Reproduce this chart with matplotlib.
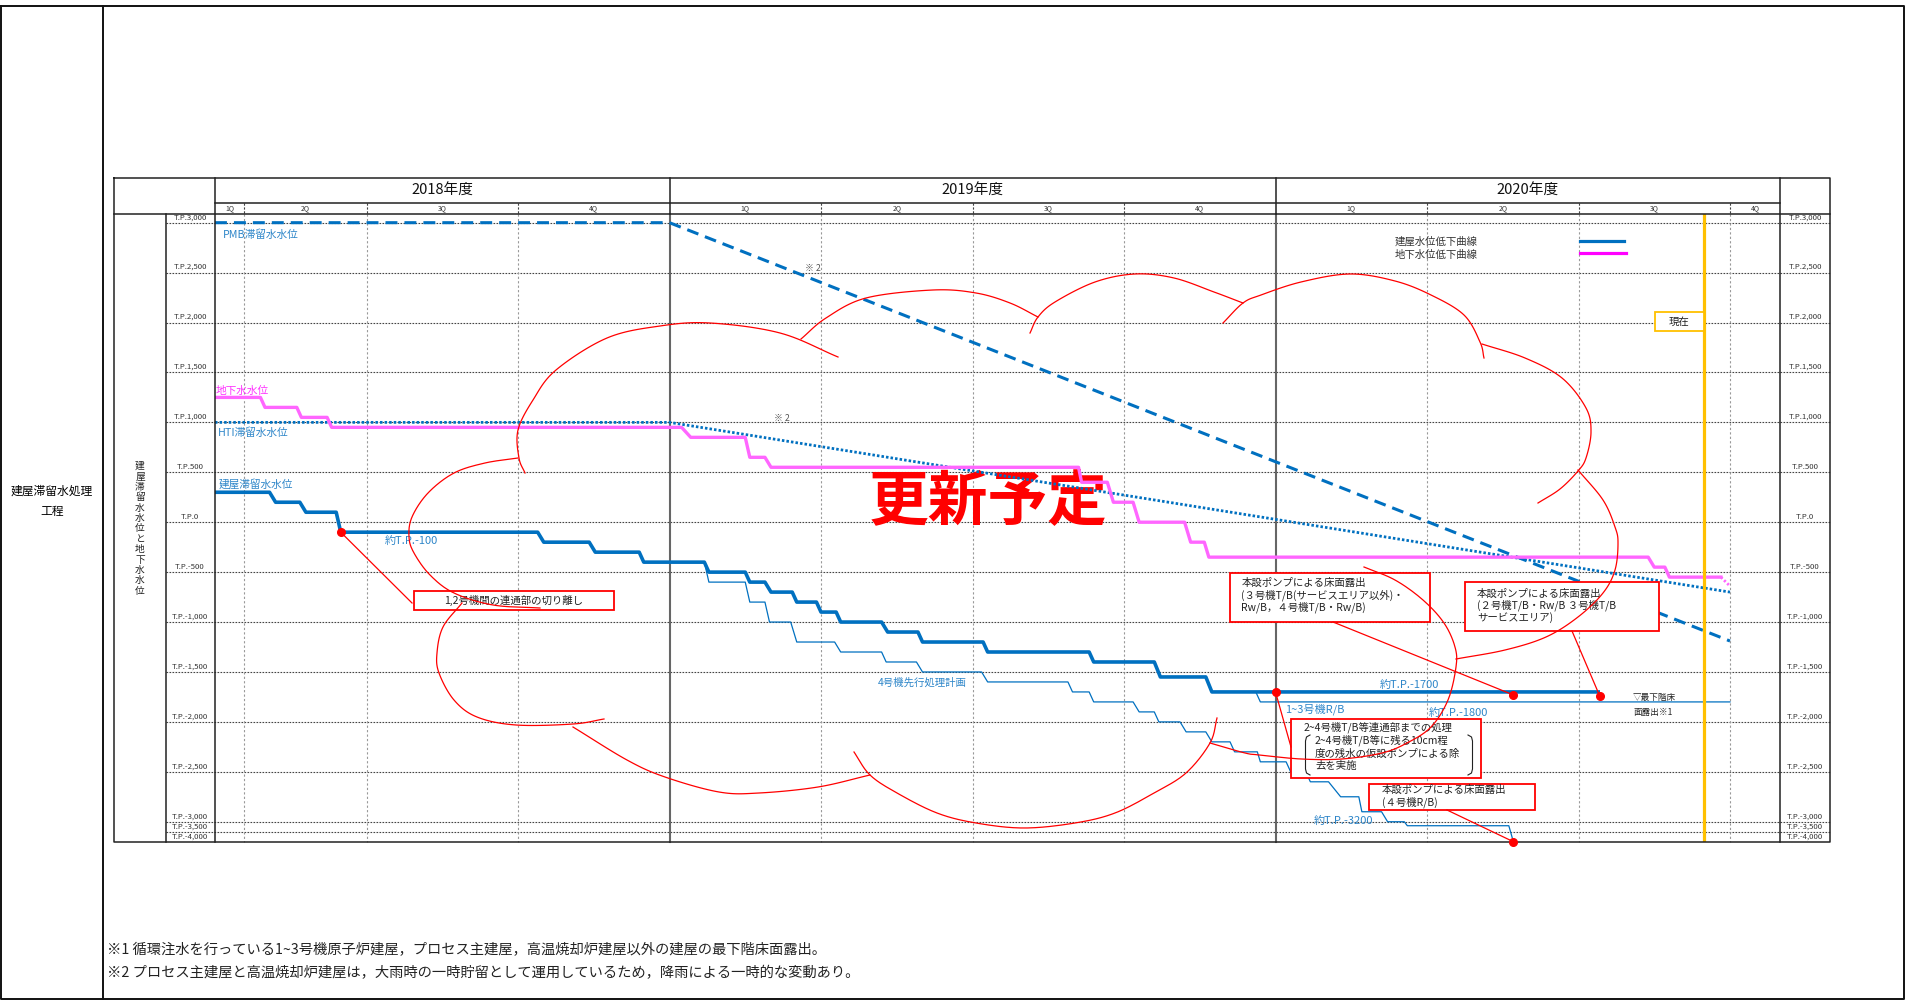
"""
Building stagnant water / groundwater level schedule chart (FY2018-FY2020).
"""

import numpy as np
import matplotlib
matplotlib.use('Agg')
import matplotlib.pyplot as plt
from matplotlib.lines import Line2D
from matplotlib.patches import Rectangle
from matplotlib.transforms import Affine2D

# ---- time axis (x = quarter index, FY2019 1Q starts at 4) ----
years = ['2018年度', '2019年度', '2020年度']
year_edges = [1.0, 4.0, 8.0, 11.33]
q_edges = [1.0, 1.19, 2.0, 3.0, 4.0, 5.0, 6.0, 7.0, 8.0, 9.0, 10.0, 11.0, 11.33]
q_labels = ['1Q', '2Q', '3Q', '4Q'] * 3
now_q = 10.83

# ---- water level axis (T.P. mm) ----
y_ticks = [3000, 2500, 2000, 1500, 1000, 500, 0, -500, -1000, -1500,
           -2000, -2500, -3000, -3500, -4000]

# ---- series ----
# building stagnant water level (thick)
bldg_x = [1.0, 1.36, 1.40, 1.56, 1.60, 1.80, 1.83, 3.13, 3.17, 3.47, 3.51, 3.80, 3.83,
          4.23, 4.26, 4.50, 4.53, 4.63, 4.67, 4.81, 4.84, 4.97, 5.00, 5.10, 5.13,
          5.40, 5.44, 5.64, 5.67, 6.07, 6.10, 6.77, 6.80, 7.20, 7.24, 7.54, 7.58, 10.13]
bldg_y = [300, 300, 200, 200, 100, 100, -100, -100, -200, -200, -300, -300, -400,
          -400, -500, -500, -600, -600, -700, -700, -800, -800, -900, -900, -1000,
          -1000, -1100, -1100, -1200, -1200, -1300, -1300, -1400, -1400, -1550, -1550, -1700, -1700]

# unit 4 advance treatment plan (thin)
plan4_x = [4.23, 4.26, 4.50, 4.53, 4.63, 4.66, 4.80, 4.84, 5.09, 5.13, 5.40, 5.43, 5.63, 5.67,
           6.06, 6.10, 6.63, 6.66, 6.77, 6.80, 7.06, 7.10, 7.20, 7.23, 7.37, 7.41, 7.54, 7.58,
           7.70, 7.73, 7.88, 7.90, 8.07, 8.10, 8.20, 8.23, 8.35, 8.43, 8.55, 8.57, 8.70, 8.74,
           8.85, 8.87, 9.54, 9.57]
plan4_y = [-400, -600, -600, -800, -800, -1000, -1000, -1200, -1200, -1300, -1300, -1400,
           -1400, -1500, -1500, -1600, -1600, -1700, -1700, -1800, -1800, -1900, -1900, -2000,
           -2000, -2100, -2100, -2200, -2200, -2300, -2300, -2400, -2400, -2500, -2500, -2600,
           -2600, -2750, -2750, -2900, -2900, -3000, -3000, -3200, -3200, -4000]

# units 1-3 R/B (thin)
rb_x = [7.87, 7.90, 11.0]
rb_y = [-1700, -1800, -1800]

# groundwater level (magenta)
gw_x = [1.0, 1.30, 1.33, 1.54, 1.57, 1.74, 1.77, 4.08, 4.14, 4.50, 4.53, 4.63, 4.67,
        6.70, 6.72, 6.89, 6.93, 7.06, 7.10, 7.40, 7.44, 7.53, 7.56, 10.46, 10.50,
        10.57, 10.60, 10.94]
gw_y = [1250, 1250, 1150, 1150, 1050, 1050, 950, 950, 850, 850, 650, 650, 550,
        550, 400, 400, 200, 200, 0, 0, -200, -200, -350, -350, -450,
        -450, -550, -550]
gw_tail_x = [10.94, 11.0]
gw_tail_y = [-550, -640]

# PMB / HTI stagnant water levels
pmb_x = [1.0, 4.0, 11.0]
pmb_y = [3000, 3000, -1190]
hti_x = [1.0, 4.0, 11.0]
hti_y = [1000, 1000, -700]

# milestone points
ms_x = [1.83, 8.0, 9.57, 10.14, 9.57]
ms_y = [-100, -1700, -1730, -1740, -4000]

# revision cloud (decoration, pixel coords)
CLOUD = [
    [(525, 473), (519, 458), (518, 430), (533, 400), (556, 370), (607, 338), (660, 326),
     (710, 323), (780, 333), (838, 357)],
    [(801, 339), (826, 318), (866, 298), (933, 290), (976, 293), (1010, 303), (1038, 317)],
    [(1030, 333), (1038, 317), (1055, 302), (1095, 282), (1135, 274), (1174, 278),
     (1214, 292), (1243, 303)],
    [(1223, 323), (1243, 303), (1261, 295), (1301, 282), (1350, 274), (1395, 281),
     (1431, 295), (1464, 315), (1480, 342), (1484, 358)],
    [(1482, 344), (1525, 358), (1562, 378), (1586, 408), (1591, 432), (1586, 458),
     (1578, 471), (1560, 489), (1538, 503)],
    [(1578, 470), (1603, 500), (1615, 527), (1618, 543), (1615, 570), (1603, 593),
     (1578, 617), (1546, 637), (1505, 650), (1456, 659)],
    [(1364, 567), (1395, 580), (1423, 600), (1444, 623), (1455, 647), (1456, 667),
     (1448, 700), (1431, 727), (1407, 743), (1382, 753), (1342, 759), (1301, 759),
     (1260, 755), (1245, 753), (1210, 743)],
    [(1217, 718), (1210, 743), (1186, 773), (1154, 793), (1115, 813), (1075, 823),
     (1024, 828), (976, 823), (937, 813), (897, 793), (870, 775), (854, 752)],
    [(870, 775), (818, 787), (759, 793), (719, 792), (665, 777), (627, 760), (573, 727)],
    [(604, 719), (573, 724), (516, 725), (477, 717), (454, 700), (439, 673), (437, 653),
     (443, 627), (462, 603)],
    [(540, 608), (493, 605), (454, 593), (430, 575), (414, 553), (409, 537), (412, 517),
     (428, 493), (454, 473), (485, 463), (518, 458)],
]

W, H = 1907, 1000
BLUE = '#0070C0'
LBLUE = '#2E86C9'
PINK = '#FF66FF'

plt.rcParams['font.family'] = ['Noto Sans CJK JP', 'DejaVu Sans']


def fwd(v):
    v = np.asarray(v, dtype=float)
    return np.where(v >= -3000, v, -3000 + (v + 3000) * 0.2)


def inv(t):
    t = np.asarray(t, dtype=float)
    return np.where(t >= -3000, t, -3000 + (t + 3000) / 0.2)


def smooth(pts, n=14):
    """Catmull-Rom curve through the given points."""
    p = np.asarray(pts, dtype=float)
    p = np.vstack([2 * p[0] - p[1], p, 2 * p[-1] - p[-2]])
    out = []
    t = np.linspace(0, 1, n, endpoint=False)[:, None]
    for i in range(1, len(p) - 2):
        p0, p1, p2, p3 = p[i - 1], p[i], p[i + 1], p[i + 2]
        seg = 0.5 * (2 * p1 + (-p0 + p2) * t + (2 * p0 - 5 * p1 + 4 * p2 - p3) * t ** 2
                     + (-p0 + 3 * p1 - 3 * p2 + p3) * t ** 3)
        out.append(seg)
    out.append(p[-2:-1])
    return np.vstack(out)


def main():
    fig = plt.figure(figsize=(W / 100, H / 100), dpi=100)
    PX = Affine2D().scale(1 / W, -1 / H).translate(0, 1) + fig.transFigure

    def pline(xs, ys, **kw):
        fig.add_artist(Line2D(xs, ys, transform=PX, **kw))

    def ptext(x, y, s, **kw):
        kw.setdefault('va', 'center')
        kw.setdefault('ha', 'left')
        fig.text(x, y, s, transform=PX, **kw)

    # data axes
    ax = fig.add_axes([215 / W, 1 - 841.7 / H, 1565 / W, 628 / H])
    ax.set_xlim(year_edges[0], year_edges[-1])
    ax.set_yscale('function', functions=(fwd, inv))
    ax.set_ylim(-4000, 3090)
    ax.axis('off')

    def to_px(u, v):
        d = ax.transData.transform((u, v))
        return d[0], H - d[1]

    top, bot = 213.7, 841.7
    left_tab, right_tab = 114, 1830
    x_l, x_r = to_px(year_edges[0], 0)[0], to_px(year_edges[-1], 0)[0]

    # horizontal gridlines + T.P. labels
    for v in y_ticks:
        py = to_px(1.0, v)[1]
        if v > -4000:
            pline([165.5, right_tab], [py, py], color='#444', lw=0.8,
                  ls=(0, (1.5, 1.2)), zorder=-1)
        lab = f'T.P.{v:,}'
        ptext(190, py - 1.5, lab, ha='center', va='bottom', fontsize=5.6, color='#333')
        ptext(1805, py - 1.5, lab, ha='center', va='bottom', fontsize=5.6, color='#333')

    # quarter gridlines and header
    for i, q in enumerate(q_edges[1:-1]):
        px = to_px(q, 0)[0]
        if q in year_edges:
            pline([px, px], [top, bot], color='#666', lw=1.5, zorder=-1)
            pline([px, px], [178, top], color='#222', lw=1.1, zorder=5)
        else:
            pline([px, px], [top, bot], color='#999', lw=0.8, ls=(0, (2, 2)), zorder=-1)
            pline([px, px], [203, top], color='#444', lw=0.8, ls=(0, (2, 1.5)), zorder=5)
    for i in range(len(q_edges) - 1):
        cx = (to_px(q_edges[i], 0)[0] + to_px(q_edges[i + 1], 0)[0]) / 2
        ptext(cx, 208.5, q_labels[i], ha='center', fontsize=5, color='#333')
    for i, yr in enumerate(years):
        cx = (to_px(year_edges[i], 0)[0] + to_px(year_edges[i + 1], 0)[0]) / 2
        ptext(cx, 191, yr, ha='center', fontsize=10.6, color='#111')

    # table frame
    k = dict(color='#222', lw=1.1, zorder=5)
    pline([left_tab, right_tab, right_tab, left_tab, left_tab], [178, 178, bot, bot, 178], **k)
    pline([165.5, 165.5], [top, bot], **k)
    pline([x_l, x_l], [178, bot], **k)
    pline([x_r, x_r], [178, bot], **k)
    pline([x_l, x_r], [203, 203], **k)
    pline([left_tab, right_tab], [top, top], **k)

    # outer frame
    pline([1, 1904, 1904, 1, 1], [6, 6, 998.5, 998.5, 6], color='#111', lw=1.4, zorder=5)
    pline([103, 103], [6, 998.5], color='#111', lw=1.4, zorder=5)
    ptext(52, 491, '建屋滞留水処理', ha='center', fontsize=8.5)
    ptext(52, 511, '工程', ha='center', fontsize=8.5)

    # vertical axis title (stacked characters)
    for i, ch in enumerate('建屋滞留水水位と地下水水位'):
        ptext(140, 466 + i * 10.4, ch, ha='center', fontsize=7, color='#222')

    # update stamp
    ax.text(988, 503, '更新予定', transform=PX, fontsize=43, color='#FF0000',
            fontweight='bold', ha='center', va='center', zorder=1.5)

    # series
    ax.plot(pmb_x, pmb_y, color=BLUE, lw=2.2, ls=(0, (3.9, 2.3)), zorder=2)
    ax.plot(hti_x, hti_y, color=BLUE, lw=2.0, ls=(0, (0.9, 0.75)), zorder=2)
    ax.plot(gw_x, gw_y, color=PINK, lw=2.4, zorder=2)
    ax.plot(gw_tail_x, gw_tail_y, color=PINK, lw=2.0, ls=(0, (0.8, 0.8)), zorder=2)
    ax.plot(plan4_x, plan4_y, color=BLUE, lw=0.9, zorder=2.2, clip_on=False)
    ax.plot(rb_x, rb_y, color=BLUE, lw=0.9, zorder=2.2)
    ax.plot(bldg_x, bldg_y, color=BLUE, lw=2.6, zorder=3)
    ax.axvline(now_q, color='#FFC000', lw=2.3, zorder=4)

    # series labels
    ptext(223, 235, 'PMB滞留水水位', fontsize=7.7, color=LBLUE)
    ptext(216, 391, '地下水水位', fontsize=7.7, color='#FF33FF')
    ptext(218, 433, 'HTI滞留水水位', fontsize=7.7, color=LBLUE)
    ptext(219, 484, '建屋滞留水水位', fontsize=7.7, color=LBLUE)
    ptext(385, 541, '約T.P.-100', fontsize=8, color=LBLUE)
    ptext(878, 683, '4号機先行処理計画', fontsize=7.5, color=LBLUE)
    ptext(1380, 685, '約T.P.-1700', fontsize=8, color=LBLUE)
    ptext(1285, 709, '1~3号機R/B', fontsize=8, color=LBLUE)
    ptext(1429, 713, '約T.P.-1800', fontsize=8, color=LBLUE)
    ptext(1314, 821, '約T.P.-3200', fontsize=8, color=LBLUE)
    ptext(805, 268, '※ 2', fontsize=6.3, color='#555')
    ptext(774, 418, '※ 2', fontsize=6.3, color='#555')
    ptext(1633, 697, '▽最下階床', fontsize=6.2, color='#222')
    ptext(1633, 712, '面露出※1', fontsize=6.2, color='#222')

    # legend
    ptext(1395, 241.5, '建屋水位低下曲線', fontsize=7.5, color='#333')
    ptext(1395, 254.5, '地下水位低下曲線', fontsize=7.5, color='#333')
    pline([1580, 1624], [241, 241], color=BLUE, lw=2.3, zorder=6)
    pline([1580, 1626], [253, 253], color='#FF00FF', lw=2.3, zorder=6)

    # "now" tag
    fig.add_artist(Rectangle((1655, 312), 49, 19, transform=PX, facecolor='white',
                             edgecolor='#FFC000', lw=1.3, zorder=6))
    ptext(1679.5, 321.5, '現在', ha='center', fontsize=7.5, color='#222', zorder=7)

    # annotation boxes
    boxes = [
        (414, 591, 200, 19), (1229.5, 572.7, 200, 49), (1465, 582, 193.5, 49),
        (1290.6, 719.3, 190, 59), (1369.3, 784, 166, 26),
    ]
    for (bx, by, bw, bh) in boxes:
        fig.add_artist(Rectangle((bx, by), bw, bh, transform=PX, facecolor='white',
                                 edgecolor='#FF0000', lw=1.3, zorder=6))
    tk = dict(fontsize=7.5, color='#222', zorder=7)
    ptext(514, 600.5, '1,2号機間の連通部の切り離し', ha='center', **tk)
    for y, s in zip([583.3, 595.5, 607.5],
                    ['本設ポンプによる床面露出', '(３号機T/B(サービスエリア以外)・',
                     'Rw/B，４号機T/B・Rw/B)']):
        ptext(1241.5, y, s, **tk)
    for y, s in zip([593.5, 605.5, 618],
                    ['本設ポンプによる床面露出', '(２号機T/B・Rw/B ３号機T/B', 'サービスエリア)']):
        ptext(1477, y, s, **tk)
    ptext(1304, 727.7, '2~4号機T/B等連通部までの処理', **tk)
    for y, s in zip([740.5, 753.5, 766],
                    ['2~4号機T/B等に残る10cm程', '度の残水の仮設ポンプによる除', '去を実施']):
        ptext(1315, y, s, **tk)
    ptext(1382, 789.5, '本設ポンプによる床面露出', **tk)
    ptext(1382, 802.5, '(４号機R/B)', **tk)
    # brackets in box 4
    pline([1310, 1306.5, 1305.5, 1305.5, 1306.5, 1310], [735, 737, 741, 769, 773, 775],
          color='#222', lw=0.8, zorder=7)
    pline([1468, 1471.5, 1472.5, 1472.5, 1471.5, 1468], [735, 737, 741, 769, 773, 775],
          color='#222', lw=0.8, zorder=7)

    # leader lines and milestone dots
    dots = [to_px(u, v) for u, v in zip(ms_x, ms_y)]
    leaders = [((412, 603), dots[0]), ((1333, 622), dots[2]), ((1572, 631), dots[3]),
               ((1291, 747), dots[1]), ((1447, 810), dots[4])]
    for (a, b) in leaders:
        pline([a[0], b[0]], [a[1], b[1]], color='#FF0000', lw=0.9, zorder=8)
    pline([d[0] for d in dots], [d[1] for d in dots], ls='none', marker='o', ms=5.5,
          color='#FF0000', zorder=9)

    # revision cloud
    for arc in CLOUD:
        c = smooth(arc)
        pline(c[:, 0], c[:, 1], color='#FF0000', lw=0.9, zorder=8)

    # footnotes
    ptext(107, 950, '※1 循環注水を行っている1~3号機原子炉建屋，プロセス主建屋，高温焼却炉建屋以外の建屋の最下階床面露出。',
          fontsize=10.3, color='#222')
    ptext(107, 973, '※2 プロセス主建屋と高温焼却炉建屋は，大雨時の一時貯留として運用しているため，降雨による一時的な変動あり。',
          fontsize=10.3, color='#222')

    fig.savefig('out.png', dpi=100)


if __name__ == '__main__':
    main()
